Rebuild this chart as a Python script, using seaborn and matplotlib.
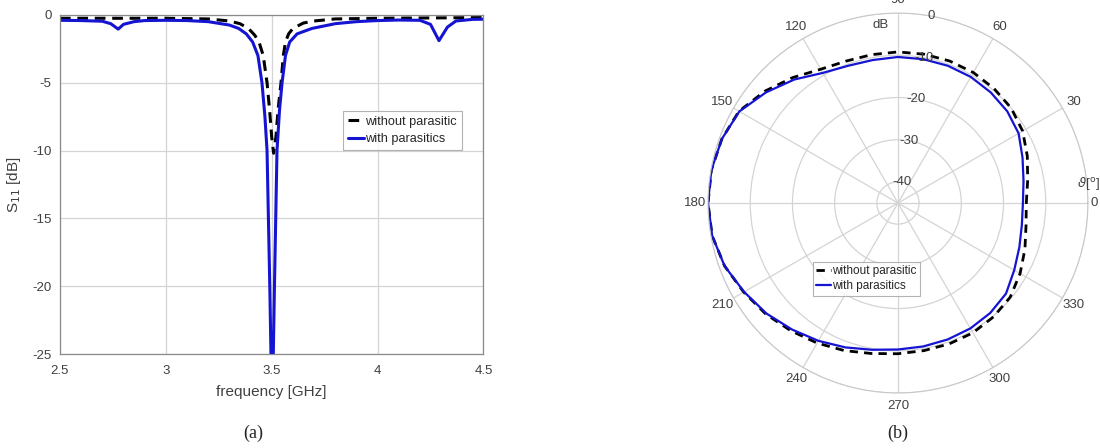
import numpy as np
import matplotlib
matplotlib.use("Agg")
import matplotlib.pyplot as plt
import seaborn as sns

# (a) S11 vs frequency
freq_ref = [2.5, 3.0, 3.2, 3.3, 3.35, 3.39, 3.42, 3.44, 3.46, 3.478, 3.49, 3.50, 3.509,
            3.52, 3.53, 3.544, 3.555, 3.565, 3.58, 3.60, 3.65, 3.7, 3.8, 4.0, 4.5]
s11_ref = [-0.25, -0.25, -0.3, -0.45, -0.65, -1.0, -1.5, -2.0, -3.0, -5.0, -7.0, -9.0, -10.2,
           -9.0, -7.0, -5.0, -3.0, -2.0, -1.4, -1.0, -0.6, -0.45, -0.3, -0.25, -0.2]

freq_par = [2.5, 2.6, 2.7, 2.74, 2.775, 2.80, 2.85, 2.9, 3.0, 3.1, 3.2, 3.3, 3.344, 3.38,
            3.41, 3.435, 3.454, 3.468, 3.478, 3.491, 3.502, 3.513, 3.525, 3.537, 3.549,
            3.565, 3.585, 3.62, 3.69, 3.8, 3.9, 4.0, 4.1, 4.2, 4.25, 4.29, 4.33, 4.37,
            4.45, 4.5]
s11_par = [-0.4, -0.42, -0.47, -0.65, -1.05, -0.7, -0.5, -0.42, -0.4, -0.42, -0.5, -0.75,
           -1.0, -1.4, -2.0, -3.0, -5.0, -7.5, -10.0, -20.0, -30.0, -20.0, -10.0, -7.0,
           -5.0, -3.0, -2.0, -1.4, -1.0, -0.65, -0.5, -0.42, -0.38, -0.4, -0.7, -1.9,
           -0.9, -0.45, -0.33, -0.32]

# (b) radiation pattern, dB vs angle (deg)
angles = list(range(0, 361, 10))
gain_ref = [-14.6, -13.8, -12.4, -10.9, -10.0, -9.6, -9.3, -9.2, -9.2, -9.2, -9.3, -9.2,
            -8.4, -6.2, -3.8, -1.5, -0.6, -0.1, 0.0, -0.3, -1.3, -2.8, -4.1, -5.5, -6.7,
            -7.8, -8.8, -9.3, -9.5, -9.5, -9.5, -9.8, -10.3, -11.6, -13.0, -14.2, -14.6]
gain_par = [-15.4, -14.8, -13.6, -12.0, -11.2, -10.8, -10.5, -10.4, -10.4, -10.4, -10.6,
            -10.4, -9.4, -6.8, -4.2, -1.6, -0.6, -0.1, 0.0, -0.3, -1.3, -2.9, -4.3, -5.9,
            -7.3, -8.6, -9.7, -10.3, -10.5, -10.6, -10.7, -11.0, -11.6, -13.2, -14.4,
            -15.2, -15.4]
theta_ticks = list(range(0, 360, 30))
r_ticks = [-40, -30, -20, -10, 0]

sns.set_style("white")
plt.rcParams['font.family'] = ['Liberation Sans', 'DejaVu Sans']
plt.rcParams['axes.unicode_minus'] = False

grid_c = '#d4d4d4'
txt_c = '#404040'
blue = '#1414d2'

fig = plt.figure(figsize=(11, 4.48), dpi=100)

# ---- left panel ----
ax1 = fig.add_axes([0.0545, 0.2098, 0.385, 0.757])
sns.lineplot(x=freq_ref, y=s11_ref, ax=ax1, color='black', lw=2.2,
             linestyle=(0, (3.5, 2.2)), sort=False, label='without parasitic')
sns.lineplot(x=freq_par, y=s11_par, ax=ax1, color=blue, lw=2.2, sort=False,
             label='with parasitics')
ax1.set_xlim(2.5, 4.5)
ax1.set_ylim(-25, 0)
ax1.set_xticks([2.5, 3, 3.5, 4, 4.5])
ax1.set_xticklabels(['2.5', '3', '3.5', '4', '4.5'])
ax1.set_yticks([0, -5, -10, -15, -20, -25])
ax1.grid(True, color=grid_c, lw=0.9)
ax1.tick_params(labelsize=9.5, colors=txt_c, direction='in', length=3)
ax1.tick_params(axis='x', pad=8)
ax1.tick_params(axis='y', pad=6)
for sp in ax1.spines.values():
    sp.set_color('#8a8a8a')
    sp.set_linewidth(0.9)
ax1.set_xlabel('frequency [GHz]', fontsize=11, color=txt_c, labelpad=6)
ax1.set_ylabel('S$_{11}$ [dB]', fontsize=11, color=txt_c, labelpad=7)
leg1 = ax1.legend(loc='upper left', bbox_to_anchor=(0.669, 0.717), fontsize=9.2,
                  frameon=True, fancybox=False, handlelength=1.2, handletextpad=0.1,
                  borderpad=0.4, labelspacing=0.4, borderaxespad=0)
leg1.get_frame().set_edgecolor('#a0a0a0')
leg1.get_frame().set_linewidth(0.8)

# ---- right panel (polar) ----
ax2 = fig.add_axes([0.6436, 0.1228, 0.3455, 0.848], projection='polar')
theta = np.deg2rad(angles)
sns.lineplot(x=theta, y=gain_ref, ax=ax2, color='black', lw=2.0,
             linestyle=(0, (3.0, 2.2)), sort=False, label='without parasitic')
sns.lineplot(x=theta, y=gain_par, ax=ax2, color=blue, lw=1.6, sort=False,
             label='with parasitics')
ax2.set_theta_zero_location('E')
ax2.set_thetagrids(theta_ticks)
ax2.set_xticklabels([])
ax2.set_rlim(-45, 0)
ax2.set_rticks(r_ticks)
ax2.set_yticklabels([])
ax2.set_xlabel('')
ax2.set_ylabel('')
ax2.grid(True, color=grid_c, lw=0.9)
ax2.spines['polar'].set_color('#c8c8c8')

# angle labels just outside the 0 dB ring
for t in theta_ticks:
    rr = 1.4 if t == 0 else 3.1
    ax2.text(np.deg2rad(t), rr, str(t), fontsize=9.5, color=txt_c,
             ha='center', va='center', clip_on=False)
# radial labels
for r in r_ticks:
    ax2.text(np.deg2rad(80), r, str(r), fontsize=9.5, color=txt_c,
             ha='center', va='center')
fig.text(881 / 1100, 1 - 25 / 448, 'dB', fontsize=9.5, color=txt_c,
         ha='center', va='center')
fig.text(1088 / 1100, 1 - 183 / 448, r'$\vartheta$[$^{\rm o}$]', fontsize=9.5,
         color=txt_c, ha='center', va='center')
leg2 = ax2.legend(loc='upper left', bbox_to_anchor=(0.276, 0.345), fontsize=8.5,
                  frameon=True, fancybox=False, handlelength=1.2, handletextpad=0.1,
                  borderpad=0.3, labelspacing=0.25, borderaxespad=0)
leg2.get_frame().set_edgecolor('#a0a0a0')
leg2.get_frame().set_linewidth(0.8)

# panel captions
fig.text(253 / 1100, 1 - 433 / 448, '(a)', fontsize=13, family='Liberation Serif',
         ha='center', va='center')
fig.text(898 / 1100, 1 - 433 / 448, '(b)', fontsize=13, family='Liberation Serif',
         ha='center', va='center')

fig.savefig('out.png', dpi=100)
